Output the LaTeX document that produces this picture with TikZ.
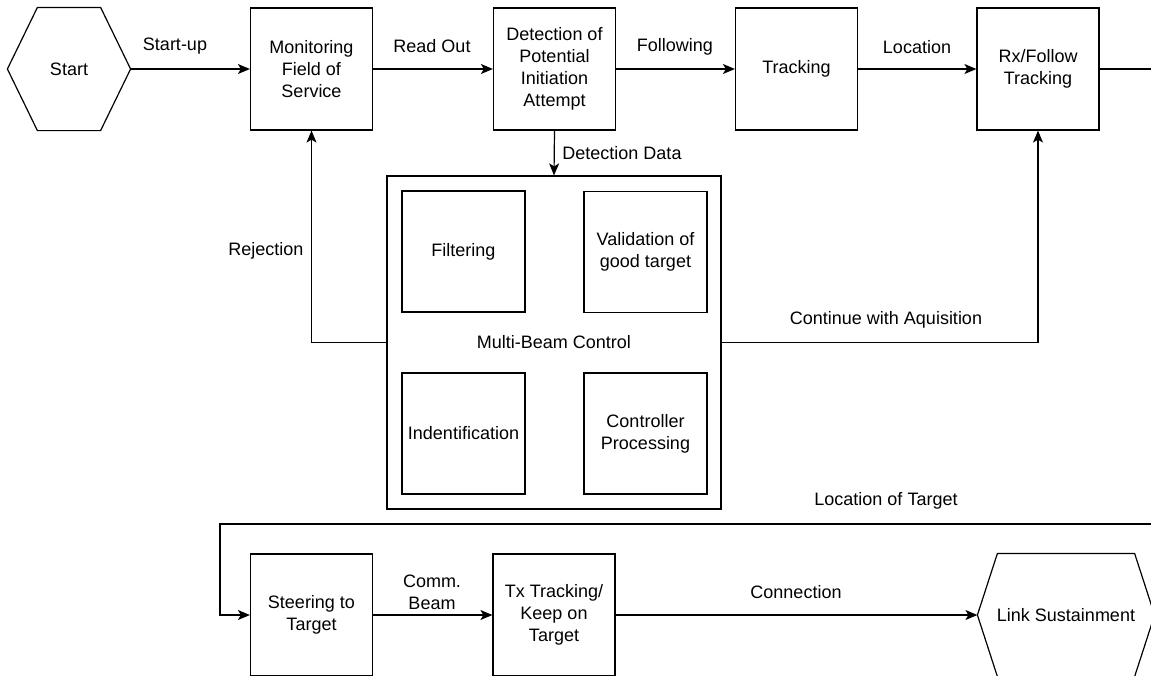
\documentclass[tikz,border=0pt]{standalone}
\usepackage{fontspec}
\setmainfont{Liberation Sans}
\usetikzlibrary{arrows.meta}
\begin{document}
\begin{tikzpicture}[x=1pt, y=-1pt, line width=1.2pt,
  font=\fontsize{18}{22}\selectfont,
  blk/.style={draw, rectangle, inner sep=0pt, minimum width=122pt, minimum height=122pt, align=center},
  hexbox/.style={rectangle, inner sep=0pt, minimum height=122pt, align=center},
  lbl/.style={inner sep=0pt, align=center},
  arr/.style={-{Stealth[length=12pt, width=10pt, inset=3pt]}}]
\useasboundingbox (0,0) rectangle (1151,675);
\clip (0,0) rectangle (1151,675);
\node[hexbox, minimum width=122pt] (start) at (69,69){Start};
\draw[](start.west) -- ([xshift=30pt]start.north west) -- ([xshift=-30pt]start.north east) -- (start.east) -- ([xshift=-30pt]start.south east) -- ([xshift=30pt]start.south west) -- cycle;
\node[blk] (mon) at (311.5,69){Monitoring\\Field of\\Service};
\node[blk] (det) at (554.5,69){Detection of\\Potential\\Initiation\\Attempt};
\node[blk] (trk) at (796.5,69){Tracking};
\node[blk] (rx) at (1038,69){Rx/Follow\\Tracking};
\coordinate (rxout) at (1151,69);
\node[blk, minimum width=334pt, minimum height=333pt] (mbc) at (554,342.5){Multi-Beam Control};
\node[blk, minimum width=123pt, minimum height=121pt] (filt) at (463.5,251.5){Filtering};
\node[blk, minimum width=123pt, minimum height=121pt] (valid) at (645.5,252){Validation of\\good target};
\node[blk, minimum width=123pt, minimum height=121pt] (ident) at (463.5,433.5){Indentification};
\node[blk, minimum width=123pt, minimum height=121pt] (ctrl) at (645.5,433.5){Controller\\Processing};
\node[blk] (steer) at (311.5,615){Steering to\\Target};
\node[blk] (tx) at (554,615){Tx Tracking/\\Keep on\\Target};
\node[hexbox, minimum width=176pt] (link) at (1066,615){Link Sustainment};
\draw[](link.west) -- ([xshift=20pt]link.north west) -- ([xshift=-20pt]link.north east) -- (link.east) -- ([xshift=-20pt]link.south east) -- ([xshift=20pt]link.south west) -- cycle;
\coordinate (lotin) at (1151,524);
\coordinate (lotturn) at (220,524);
\draw[arr](start.east) -- (mon.west);
\draw[arr](mon.east) -- (det.west);
\draw[arr](det.east) -- (trk.west);
\draw[arr](trk.east) -- (rx.west);
\draw[](rx.east) -- (rxout);
\draw[arr](det.south) -- (mbc.north);
\draw[arr](mbc.west) -| (mon.south);
\draw[arr](mbc.east) -| (rx.south);
\draw[arr](lotin) -- (lotturn) |- (steer.west);
\draw[arr](steer.east) -- (tx.west);
\draw[arr](tx.east) -- (link.west);
\node[lbl] (lstart) at (175,46){Start-up};
\node[lbl] (lread) at (432,46){Read Out};
\node[lbl] (lfoll) at (675,47){Following};
\node[lbl] (lloc) at (917,47){Location};
\node[lbl] (ldata) at (622,153){Detection Data};
\node[lbl] (lrej) at (266,251){Rejection};
\node[lbl] (lcont) at (886,320){Continue with Aquisition};
\node[lbl] (llot) at (886,501){Location of Target};
\node[lbl] (lcomm) at (432,592){Comm.\\Beam};
\node[lbl] (lconn) at (796,592){Connection};
\end{tikzpicture}
\end{document}
